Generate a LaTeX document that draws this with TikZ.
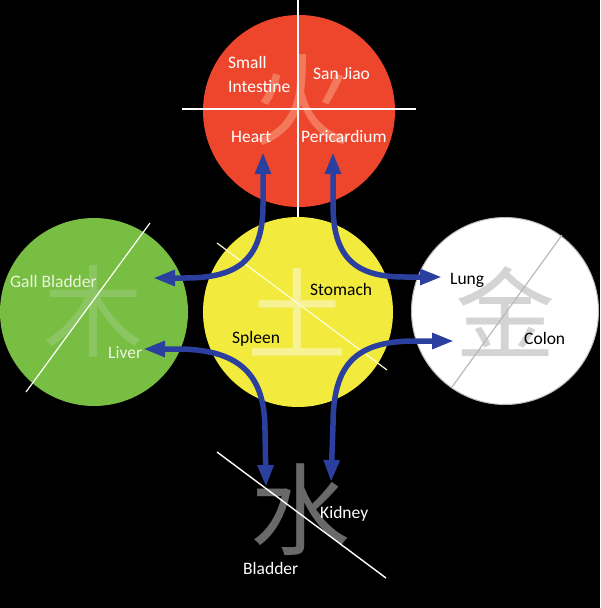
\documentclass[tikz,border=0pt]{standalone}
\usepackage{fontspec}
\setmainfont{Carlito}
\newfontfamily\cjkfont{Noto Sans CJK SC}
\usetikzlibrary{arrows.meta}
\definecolor{firered}{RGB}{238,70,45}
\definecolor{woodgreen}{RGB}{120,190,66}
\definecolor{earthyellow}{RGB}{242,235,62}
\definecolor{metalborder}{RGB}{185,185,185}
\definecolor{firechar}{RGB}{243,120,92}
\definecolor{woodchar}{RGB}{140,198,98}
\definecolor{earthchar}{RGB}{247,242,150}
\definecolor{metalchar}{RGB}{212,212,212}
\definecolor{waterchar}{RGB}{105,105,105}
\definecolor{woodtext}{RGB}{235,245,225}
\definecolor{arrowblue}{RGB}{43,63,158}
\begin{document}
\begin{tikzpicture}[x=1pt,y=-1pt,
  phase/.style={circle,inner sep=0pt,minimum size=#1},
  hanzi/.style={font=\cjkfont\fontsize{100}{100}\selectfont,inner sep=0pt},
  lbl/.style={font=\fontsize{17.5}{20}\selectfont,anchor=base west,inner sep=0pt},
  divider/.style={line width=1.4pt,white},
  meridian/.style={arrowblue,line width=5.5pt,
    {Triangle[length=22pt,width=15pt]}-{Triangle[length=22pt,width=15pt]}}]
\useasboundingbox (0,0) rectangle (600,608);
\fill[black] (0,0) rectangle (600,608);
% circles
\node[phase=192pt,fill=firered] (fire) at (299,111) {};
\node[phase=188pt,fill=woodgreen] (wood) at (94,312) {};
\node[phase=190pt,fill=earthyellow] (earth) at (298,312) {};
\node[phase=187pt,fill=white,draw=metalborder,line width=1pt] (metal) at (505,311) {};
% characters
\node[hanzi,text=firechar] (firech) at (302,100) {火};
\node[hanzi,text=woodchar] (woodch) at (93,312) {木};
\node[hanzi,text=earthchar] (earthch) at (297,312) {土};
\node[hanzi,text=metalchar] (metalch) at (505,312) {金};
\node[hanzi,text=waterchar] (waterch) at (300,510) {水};
% divider lines
\draw[divider] (298,0) -- (298,217);
\draw[divider] (182,109) -- (416,109);
\draw[divider,line width=1.2pt] (150,223) -- (26,392);
\draw[line width=1.2pt,white!85!yellow] (217,243) -- (387,370);
\draw[line width=1.2pt,metalborder] (562,235) -- (452,387);
\draw[divider] (217,452) -- (386,578);
% labels
\node[lbl,white] (small) at (228,68) {Small};
\node[lbl,white] (intestine) at (228,92) {Intestine};
\node[lbl,white] (sanjiao) at (313,79) {San Jiao};
\node[lbl,white] (heart) at (231,142) {Heart};
\node[lbl,white] (pericardium) at (301,142) {Pericardium};
\node[lbl,woodtext] (gall) at (10,287) {Gall Bladder};
\node[lbl,woodtext] (liver) at (108,358) {Liver};
\node[lbl,black] (stomach) at (310,295) {Stomach};
\node[lbl,black] (spleen) at (232,343) {Spleen};
\node[lbl,black] (lung) at (450,284) {Lung};
\node[lbl,black] (colon) at (524,344) {Colon};
\node[lbl,white] (kidney) at (320,518) {Kidney};
\node[lbl,white] (bladder) at (243,574) {Bladder};
% arrow end points
\coordinate (heartTip) at (263,152);
\coordinate (gallTip) at (153,278);
\coordinate (periTip) at (333,152);
\coordinate (lungTip) at (442,277);
\coordinate (liverTip) at (143,349);
\coordinate (bladderTip) at (266,487);
\coordinate (colonTip) at (454,341);
\coordinate (kidneyTip) at (331,482);
% arrows
\draw[meridian] (heartTip) -- (263,205) .. controls (263,262) and (235,278) .. (185,278) -- (gallTip);
\draw[meridian] (periTip) -- (333,205) .. controls (333,262) and (360,277) .. (405,277) -- (lungTip);
\draw[meridian] (liverTip) -- (180,349) .. controls (240,350) and (265,375) .. (265,430) -- (bladderTip);
\draw[meridian] (colonTip) -- (415,341) .. controls (355,341) and (333,365) .. (333,425) -- (kidneyTip);
\end{tikzpicture}
\end{document}
